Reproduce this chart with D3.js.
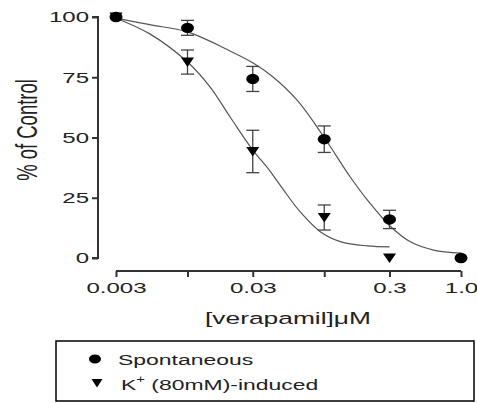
<!DOCTYPE html>
<html>
<head>
<meta charset="utf-8">
<script src="https://cdn.jsdelivr.net/npm/d3@7"></script>
<style>
  body { margin: 0; background: #fff; }
  svg { display: block; font-family: "Liberation Sans", Arial, sans-serif; }
</style>
</head>
<body>
<div id="chart"></div>
<script>
var svgWidth = 477;
var svgHeight = 403;

// measured points (mean, sem)
var spontDoses = [0.003, 0.01, 0.03, 0.1, 0.3, 1.0];
var spontMean = [100, 95.5, 74.3, 49.3, 16.0, 0];
var spontErr = [0, 3.1, 5.2, 5.5, 3.8, 0];

var kDoses = [0.003, 0.01, 0.03, 0.1, 0.3];
var kMean = [100, 81.3, 44.2, 16.8, 0];
var kErr = [0, 5.0, 8.8, 5.2, 0];

// fitted curves
var spontCurveX = [0.003, 0.0053, 0.01, 0.02, 0.03, 0.042, 0.064, 0.1, 0.155, 0.207, 0.3, 0.43, 0.63, 1.0];
var spontCurveY = [99.5, 96.8, 93.8, 86.2, 81, 75.2, 65.2, 50, 33.6, 24, 13.5, 6.6, 3.3, 2];
var kCurveX = [0.003, 0.0053, 0.01, 0.0146, 0.0205, 0.03, 0.039, 0.05, 0.067, 0.094, 0.131, 0.207, 0.3];
var kCurveY = [99.5, 93, 81.3, 71, 58.5, 44.8, 37, 28.5, 19, 10.8, 6.8, 5, 4.6];

var xTicks = [0.003, 0.01, 0.03, 0.1, 0.3, 1.0];
var xTickLabels = ["0.003", "", "0.03", "", "0.3", "1.0"];
var yTicks = [0, 25, 50, 75, 100];

// the original picture is stretched sideways, so text is too
var stretch = 1.55;

var svg = d3.select("#chart")
    .append("svg")
    .attr("width", svgWidth)
    .attr("height", svgHeight);

var x = d3.scaleLog().domain([0.003, 1.0]).range([116, 461]);
var y = d3.scaleLinear().domain([0, 100]).range([258, 17]);

var axisColor = "#333";
var textColor = "#222";

// y axis
var yAxis = svg.append("g")
    .attr("transform", "translate(98,0)")
    .call(d3.axisLeft(y).tickValues(yTicks).tickSize(6).tickFormat(d3.format("d")));
yAxis.select(".domain").attr("stroke", axisColor).attr("stroke-width", 2).attr("d", "M-6,258H0V17H-6");
yAxis.selectAll(".tick line").attr("stroke", axisColor).attr("stroke-width", 2);
yAxis.selectAll("text")
    .attr("font-size", 15.5).attr("fill", textColor)
    .attr("font-family", "Liberation Sans, Arial, sans-serif")
    .attr("x", -9 / stretch)
    .attr("transform", `scale(${stretch},1)`);

// x axis
var xAxis = svg.append("g")
    .attr("transform", "translate(0,271)")
    .call(d3.axisBottom(x).tickValues(xTicks).tickSize(6).tickPadding(5)
        .tickFormat((d, i) => xTickLabels[i]));
xAxis.select(".domain").attr("stroke", axisColor).attr("stroke-width", 2).attr("d", "M116,0H461");
xAxis.selectAll(".tick line").attr("stroke", axisColor).attr("stroke-width", 2);
xAxis.selectAll("text")
    .attr("font-size", 15.5).attr("fill", textColor)
    .attr("font-family", "Liberation Sans, Arial, sans-serif")
    .attr("transform", `scale(${stretch},1)`);

// axis titles
svg.append("text")
    .attr("transform", `translate(288,324) scale(${stretch},1)`)
    .attr("text-anchor", "middle")
    .attr("font-size", 17).attr("fill", textColor)
    .text("[verapamil]μM");

svg.append("text")
    .attr("transform", `translate(37,130) rotate(-90) scale(1,${stretch})`)
    .attr("text-anchor", "middle")
    .attr("font-size", 18.5).attr("fill", textColor)
    .text("% of Control");

// curves
var line = d3.line()
    .x(d => x(d[0]))
    .y(d => y(d[1]))
    .curve(d3.curveCatmullRom.alpha(0.5));

svg.append("path")
    .datum(spontCurveX.map((d, i) => [d, spontCurveY[i]]))
    .attr("fill", "none").attr("stroke", "#555").attr("stroke-width", 1.2)
    .attr("d", line);

svg.append("path")
    .datum(kCurveX.map((d, i) => [d, kCurveY[i]]))
    .attr("fill", "none").attr("stroke", "#555").attr("stroke-width", 1.2)
    .attr("d", line);

// error bars
function errorBars(doses, means, errs) {
    var g = svg.append("g").attr("stroke", "#444").attr("stroke-width", 1.3);
    doses.forEach(function (d, i) {
        if (!errs[i]) return;
        var cx = x(d), top = y(means[i] + errs[i]), bot = y(means[i] - errs[i]);
        g.append("line").attr("x1", cx).attr("x2", cx).attr("y1", top).attr("y2", bot);
        g.append("line").attr("x1", cx - 6.5).attr("x2", cx + 6.5).attr("y1", top).attr("y2", top);
        g.append("line").attr("x1", cx - 6.5).attr("x2", cx + 6.5).attr("y1", bot).attr("y2", bot);
    });
}
errorBars(spontDoses, spontMean, spontErr);
errorBars(kDoses, kMean, kErr);

// markers
svg.append("g").selectAll("ellipse")
    .data(spontDoses)
    .enter()
    .append("ellipse")
    .attr("cx", d => x(d))
    .attr("cy", (d, i) => y(spontMean[i]))
    .attr("rx", 6.5).attr("ry", 5.2)
    .attr("fill", "#000");

var tri = "M-6.5,-4.5L6.5,-4.5L0,5Z";
svg.append("g").selectAll("path")
    .data(kDoses)
    .enter()
    .append("path")
    .attr("transform", (d, i) => `translate(${x(d)},${y(kMean[i])})`)
    .attr("d", tri)
    .attr("fill", "#000");

// legend
var legend = svg.append("g");
legend.append("rect")
    .attr("x", 56).attr("y", 341).attr("width", 418).attr("height", 60)
    .attr("fill", "none").attr("stroke", "#000").attr("stroke-width", 1.5);
legend.append("ellipse").attr("cx", 95).attr("cy", 359).attr("rx", 6).attr("ry", 4.6).attr("fill", "#000");
legend.append("path").attr("transform", "translate(97,383)").attr("d", "M-5.5,-4L5.5,-4L0,4.5Z").attr("fill", "#000");
legend.append("text")
    .attr("transform", `translate(118,365) scale(1.48,1)`)
    .attr("font-size", 15.5).attr("fill", textColor)
    .text("Spontaneous");
var kText = legend.append("text")
    .attr("transform", `translate(121,390) scale(1.48,1)`)
    .attr("font-size", 15.5).attr("fill", textColor);
kText.append("tspan").text("K");
kText.append("tspan").attr("font-size", 10).attr("dy", -7).text("+");
kText.append("tspan").attr("dy", 7).text(" (80mM)-induced");
</script>
</body>
</html>
